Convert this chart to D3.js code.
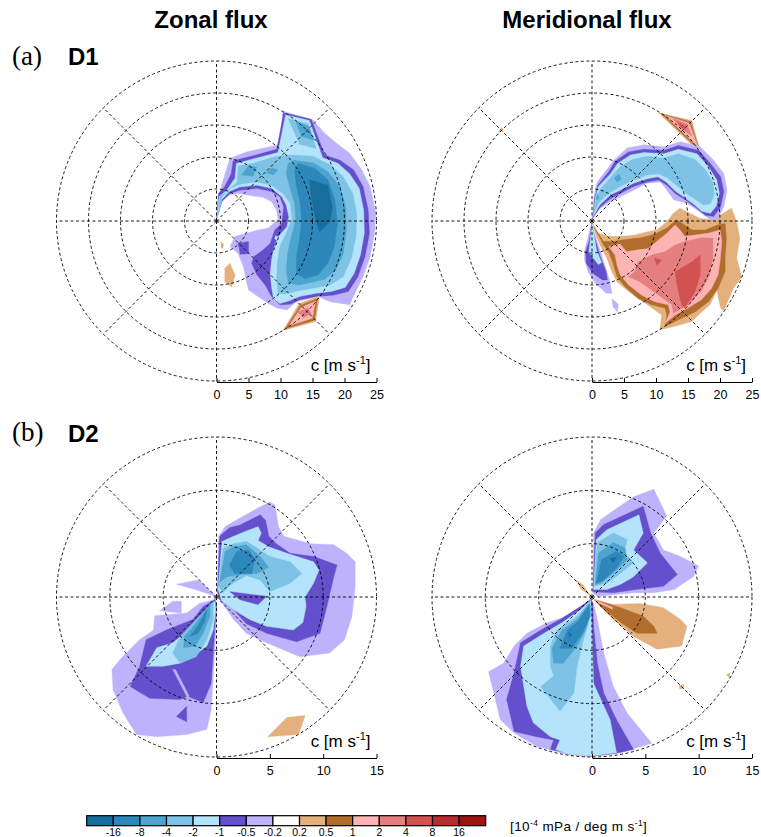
<!DOCTYPE html>
<html>
<head>
<meta charset="utf-8">
<script src="https://cdn.jsdelivr.net/npm/d3@7"></script>
<style>
  body { margin: 0; background: #fff; }
  svg { display: block; }
</style>
</head>
<body>
<svg id="fig" width="761" height="837"></svg>
<script>
// Contour levels of the flux spectrum [10^-4 mPa / deg m s^-1] and their fill colours
const contourLevels = [-16, -8, -4, -2, -1, -0.5, -0.2, 0.2, 0.5, 1, 2, 4, 8, 16];
const fillColors = ["#176d9c", "#2d87bb", "#4ca4cf", "#7ec3e6", "#b4e4fb", "#6450cd", "#bdb2fb",
                    "#ffffff", "#e4b07e", "#b06d2b", "#fcb3b3", "#e57f7f", "#d25151", "#b72c2c", "#9a1414"];
const colorbarLabels = ["-16", "-8", "-4", "-2", "-1", "-0.5", "-0.2", "0.2", "0.5", "1", "2", "4", "8", "16"];

const columnTitles = ["Zonal flux", "Meridional flux"];
const rowTags = ["(a)", "(b)"];
const rowNames = ["D1", "D2"];

// Phase-speed rings [m s^-1] and axis ticks per domain
const ringsD1 = [5, 10, 15, 20, 25];
const ringsD2 = [5, 10, 15];
const speedTicksD1 = [0, 5, 10, 15, 20, 25];
const speedTicksD2 = [0, 5, 10, 15];
const gridDirections = [0, 45, 90, 135, 180, 225, 270, 315];

// Filled contour regions: [contour level, vertices as (c_x, c_y) phase-speed components in m s^-1]
// Regions are painted in the listed order.
const d1ZonalRegions = [
  [-0.2, [[0,0.4],[0.3,3.3],[0.8,5.6],[2.1,9.8],[4.7,10.8],[7.8,11.5],[10.0,12.0],[10.3,17.2],[15.1,15.8],[16.9,13.7],[18.8,12.1],[20.8,10.6],[22.7,8.0],[24.0,5.4],[24.9,1.2],[24.7,-1.9],[24.0,-5.6],[22.9,-8.7],[21.4,-11.8],[20.8,-13.1],[17.7,-12.6],[15.9,-11.8],[12.5,-12.6],[11.0,-13.9],[9.4,-13.6],[8.1,-12.9],[6.5,-11.8],[5.0,-10.8],[4.7,-9.5],[4.2,-7.1],[3.4,-5.1],[2.1,-4.0],[2.9,-2.4],[4.7,-1.9],[6.5,-1.4],[8.1,-1.1],[8.9,-0.4],[9.6,0.2],[9.4,1.7],[8.6,3.0],[7.3,3.7],[5.7,3.9],[3.6,4.3],[2.1,4.1],[1.0,3.3],[0.5,2.0]]],
  [-0.5, [[0,0.2],[0.3,4.3],[1.3,5.4],[2.3,7.4],[2.6,9.4],[5.7,10.2],[9.4,11.2],[10.5,16.9],[14.8,15.9],[16.9,10.3],[19.3,9.5],[21.4,8.0],[22.9,5.4],[23.7,1.7],[23.9,-1.9],[23.2,-5.6],[22.1,-8.7],[20.6,-11.0],[18.2,-11.6],[15.6,-11.8],[13.0,-12.3],[11.5,-13.0],[9.9,-13.1],[8.6,-11.8],[7.6,-10.0],[6.3,-8.4],[5.5,-6.6],[5.8,-5.6],[7.3,-4.5],[8.4,-3.5],[9.1,-1.4],[10.2,-0.4],[10.5,2.2],[9.9,3.8],[8.6,4.6],[6.3,5.1],[3.6,4.8],[2.1,4.3],[0.8,3.0],[0.3,1.2]]],
  [-0.5, [[3.4,-3.5],[5.0,-3.2],[5.0,-5.1],[3.7,-5.2]]],
  [-1, [[0.05,0.4],[0.4,3.8],[1.6,4.8],[2.9,6.7],[3.1,9.0],[5.7,9.7],[9.6,10.7],[10.8,16.6],[14.5,15.7],[16.6,9.9],[19.0,9.0],[20.8,7.4],[22.3,5.1],[23.0,1.7],[23.1,-1.9],[22.5,-5.3],[21.5,-8.2],[20.1,-10.4],[18.0,-11.0],[15.6,-11.3],[13.0,-11.8],[11.3,-12.5],[9.9,-12.9],[8.9,-12.1],[8.6,-10.3],[8.4,-8.2],[8.6,-6.1],[8.9,-4.5],[9.7,-2.4],[11.0,-0.9],[11.3,0.6],[10.9,2.5],[10.2,3.8],[8.6,5.1],[6.3,5.6],[3.6,5.3],[2.0,4.6],[0.8,3.3]]],
  [-1, [[9.2,-2.3],[9.7,-2.5],[9.5,-3.1],[9.1,-2.8]]],
  [-2, [[0.3,1.2],[0.5,3.8],[1.7,4.6],[3.2,6.1],[3.4,8.6],[5.7,9.0],[9.4,10.1],[12.0,10.3],[15.1,10.1],[17.7,8.8],[19.8,6.9],[21.3,4.3],[21.9,1.2],[21.8,-2.4],[21.1,-5.8],[19.8,-8.7],[17.7,-10.0],[15.1,-10.5],[12.8,-10.9],[10.7,-11.4],[9.6,-11.3],[9.4,-9.2],[9.5,-6.6],[9.9,-4.0],[10.9,-1.9],[11.8,0.4],[11.5,2.8],[10.4,4.3],[8.6,5.6],[6.3,6.1],[3.9,5.8],[2.1,5.1],[0.9,3.8]]],
  [-2, [[11.2,16.0],[14.3,15.2],[15.6,11.3],[13.0,12.0]]],
  [-4, [[12.0,9.5],[15.1,9.1],[17.4,7.7],[19.3,5.4],[20.2,2.2],[20.3,-1.4],[19.8,-5.1],[18.6,-7.7],[16.9,-9.1],[14.8,-9.6],[12.8,-10.0],[11.2,-9.7],[10.9,-7.7],[11.1,-5.1],[11.7,-2.4],[12.4,0.2],[12.2,2.8],[11.5,5.1],[10.9,7.4],[11.2,9.0]]],
  [-4, [[3.9,7.2],[5.0,8.6],[6.3,8.4],[5.7,7.0]]],
  [-4, [[7.8,7.5],[8.6,8.3],[9.6,8.0],[8.9,7.2]]],
  [-4, [[12.4,15.5],[14.4,14.8],[15.3,12.6],[13.3,13.2]]],
  [-8, [[12.8,9.0],[15.4,8.2],[17.4,6.4],[18.5,3.3],[18.9,-0.4],[18.4,-4.0],[17.4,-6.6],[15.9,-8.4],[13.8,-9.0],[12.5,-8.2],[12.5,-5.6],[13.0,-2.7],[13.3,0.2],[13.1,2.8],[12.5,5.4],[12.2,8.0]]],
  [-16, [[14.6,6.4],[17.4,5.6],[18.1,2.2],[17.7,-0.1],[16.1,-1.7],[15.4,0.7],[14.8,3.8]]],
  [0.2, [[0.7,-3.3],[1.1,-3.6],[1.0,-4.3],[0.7,-4.1]]],
  [0.2, [[1.3,-7.4],[2.1,-6.6],[2.9,-8.4],[2.4,-10.3],[1.3,-9.5]]],
  [0.2, [[10.4,-17.1],[12.9,-12.9],[16.1,-11.7],[15.5,-15.7]]],
  [0.5, [[10.8,-16.8],[13.1,-13.2],[15.8,-12.1],[15.3,-15.5]]],
  [1, [[11.3,-16.4],[13.2,-13.5],[15.5,-12.5],[15.0,-15.2]]],
  [2, [[12.7,-14.2],[14.3,-13.6],[14.8,-14.5],[13.6,-15.1]]]
];

const d1MeridionalRegions = [
  [0.2, [[0.1,-0.4],[1.0,-1.9],[2.6,-2.4],[4.6,-2.4],[6.7,-2.2],[8.5,-1.7],[10.1,-1.4],[11.7,-0.1],[12.7,1.2],[13.75,2.0],[15.3,1.2],[16.9,0.4],[19.0,0.2],[20.5,1.2],[21.8,2.0],[22.6,-0.1],[23.1,-2.7],[22.6,-5.8],[23.4,-8.7],[22.1,-10.5],[20.6,-14.0],[20.1,-13.6],[19.5,-10.8],[18.5,-13.0],[16.9,-14.4],[15.6,-15.7],[12.8,-16.5],[10.6,-17.0],[10.9,-14.7],[8.0,-12.6],[5.7,-11.0],[3.9,-9.5],[3.1,-7.9],[2.3,-5.8],[1.25,-3.75],[0.5,-1.9]]],
  [0.5, [[0.3,-0.9],[1.8,-3.2],[3.1,-3.2],[5.2,-2.9],[7.7,-2.6],[9.3,-2.2],[10.1,-1.9],[11.7,-1.1],[13.2,0.2],[14.0,-0.3],[15.6,-1.4],[17.7,-1.4],[19.7,-0.6],[20.8,-0.4],[21.0,-2.7],[20.8,-5.3],[20.8,-7.9],[19.7,-10.5],[18.2,-12.6],[16.1,-14.2],[14.0,-15.2],[11.4,-16.5],[11.7,-14.7],[11.4,-13.6],[9.3,-13.1],[7.2,-12.1],[5.2,-10.3],[3.9,-8.7],[3.3,-6.6],[2.6,-4.8],[1.8,-3.75]]],
  [1, [[2.6,-4.0],[4.4,-3.6],[5.4,-4.8],[7.2,-4.5],[8.8,-4.3],[10.1,-3.2],[11.7,-1.9],[13.0,-0.6],[13.75,-1.4],[14.5,-2.4],[16.1,-2.2],[18.2,-1.9],[20.0,-1.4],[20.3,-3.2],[20.0,-6.4],[19.7,-8.4],[18.7,-10.5],[17.1,-12.3],[15.0,-13.6],[13.0,-14.7],[11.4,-16.0],[12.2,-14.2],[11.9,-13.1],[9.8,-12.6],[7.8,-11.6],[5.7,-10.0],[4.4,-8.4],[3.9,-6.9],[3.6,-5.3]]],
  [2, [[6.7,-7.9],[7.2,-6.4],[9.3,-5.3],[11.4,-4.8],[13.0,-3.75],[14.5,-3.2],[17.1,-2.6],[18.9,-2.7],[18.9,-5.8],[18.4,-8.4],[17.1,-10.9],[15.0,-13.1],[12.7,-14.4],[12.5,-13.1],[11.4,-12.3],[9.3,-10.8],[7.5,-9.5],[5.7,-8.7]]],
  [4, [[13.0,-7.9],[15.6,-6.4],[16.9,-5.3],[16.9,-8.4],[16.1,-11.0],[14.5,-13.6],[14.0,-13.1],[13.5,-11.0],[13.2,-9.4]]],
  [4, [[9.8,-5.8],[10.9,-6.1],[10.1,-6.9]]],
  [0.2, [[10.4,16.9],[15.6,15.7],[17.0,10.5],[13.7,13.7]]],
  [0.5, [[10.9,16.7],[15.4,15.5],[16.8,11.0],[13.8,13.9]]],
  [1, [[11.4,16.5],[15.2,15.3],[16.6,11.5],[13.9,14.1]]],
  [2, [[12.6,16.0],[14.8,15.2],[15.6,13.3],[14.0,14.4]]],
  [4, [[13.4,15.4],[14.4,15.0],[14.6,14.3],[13.9,14.6]]],
  [0.2, [[-14.6,14.0],[-14.1,14.6],[-13.9,14.3],[-14.4,13.8]]],
  [-0.2, [[0.1,0.7],[0.3,3.8],[0.8,6.1],[2.3,8.0],[3.4,9.5],[5.5,11.4],[8.1,11.9],[11.2,11.6],[13.8,12.4],[16.9,11.6],[19.0,9.5],[20.6,7.4],[21.1,4.8],[20.6,2.2],[19.5,0.2],[18.5,0.2],[16.4,1.7],[14.8,2.8],[12.8,3.3],[11.7,4.8],[10.7,6.1],[8.6,5.9],[6.5,4.8],[4.4,3.8],[2.9,3.0],[1.3,2.0]]],
  [-0.5, [[0.1,0.4],[0.4,3.5],[0.9,5.6],[2.6,7.7],[3.6,9.3],[5.7,10.8],[8.1,11.2],[11.2,11.0],[13.5,11.8],[16.7,11.0],[18.5,9.0],[20.1,6.9],[20.6,4.6],[20.1,2.2],[19.0,0.7],[17.7,0.9],[16.1,2.2],[14.6,3.3],[13.0,4.3],[11.7,5.6],[10.4,6.4],[8.6,6.1],[6.5,5.4],[4.4,4.3],[2.9,3.5],[1.3,2.2]]],
  [-1, [[0.2,0.7],[0.5,3.5],[1.0,5.4],[2.9,7.4],[4.0,9.0],[6.0,10.3],[8.1,10.7],[11.2,10.5],[13.5,11.2],[16.4,10.5],[18.2,8.5],[19.5,6.4],[19.9,4.3],[19.4,2.3],[18.5,1.2],[17.2,1.5],[15.9,2.6],[14.4,3.7],[13.0,4.7],[11.6,6.1],[10.3,6.9],[8.6,6.6],[6.5,5.9],[4.4,4.8],[2.9,4.1],[1.2,2.5]]],
  [-2, [[0.3,1.2],[0.7,3.8],[1.4,5.1],[3.1,7.0],[4.4,8.5],[6.3,9.6],[8.6,10.1],[11.2,9.8],[13.5,10.5],[16.1,9.6],[17.7,8.0],[18.9,6.0],[19.1,4.1],[18.5,2.7],[17.4,2.5],[16.1,3.4],[14.6,4.4],[13.3,5.5],[11.8,6.7],[10.4,7.4],[8.6,7.2],[6.5,6.4],[4.4,5.4],[2.6,4.3],[1.0,2.8]]],
  [-4, [[3.5,6.7],[4.2,7.3],[4.6,6.6],[3.9,6.1]]],
  [-4, [[0.6,3.3],[0.9,4.2],[1.1,3.5]]],
  [-0.2, [[-0.1,-0.4],[-0.6,-2.5],[-1.1,-4.3],[-1.2,-6.0],[-0.6,-8.0],[0.6,-9.8],[2.2,-11.3],[3.1,-11.3],[2.8,-9.4],[2.3,-7.9],[1.5,-5.3],[0.6,-2.5]]],
  [-0.2, [[3.1,-12.1],[4.1,-13.0],[4.0,-14.2],[3.3,-13.4]]],
  [-0.5, [[-0.05,-0.5],[-0.4,-3.0],[-1.0,-4.8],[-0.9,-6.6],[0.2,-8.2],[1.6,-9.2],[2.4,-9.2],[2.2,-7.9],[1.3,-5.6],[0.4,-2.5]]],
  [-1, [[0,-0.6],[-0.3,-3.2],[-0.5,-4.8],[0.2,-5.8],[1.0,-6.8],[1.5,-6.5],[0.7,-4.5],[0.3,-2.0]]]
];

const d2ZonalRegions = [
  [-0.2, [[0.06,0.4],[0.2,5.7],[0.8,6.6],[2.2,7.4],[3.8,8.3],[5.0,8.9],[5.5,8.6],[5.8,6.6],[6.3,5.7],[8.8,5.0],[11.0,4.9],[12.2,4.1],[13.0,3.3],[13.0,1.0],[12.7,-1.8],[12.0,-4.0],[10.6,-5.25],[7.8,-5.6],[4.7,-4.3],[2.8,-3.4],[1.6,-2.1],[0.3,-0.25]]],
  [-0.2, [[-3.75,1.2],[-1.7,1.6],[-0.06,0.06],[-2.0,0.7]]],
  [-0.2, [[-5.3,-1.3],[-3.3,-1.5],[-3.3,-0.4],[-4.1,-0.4]]],
  [-0.2, [[-0.06,-0.2],[-1.6,-0.6],[-2.8,-1.5],[-5.8,-1.75],[-5.9,-3.1],[-7.2,-4.0],[-8.9,-5.7],[-9.8,-6.8],[-9.7,-8.7],[-8.75,-10.9],[-7.5,-12.9],[-5.6,-13.1],[-2.8,-12.9],[-0.9,-12.4],[-0.5,-10.6],[-0.3,-7.4],[-0.06,-3.4],[0.06,-0.9]]],
  [-0.5, [[0.1,0.5],[0.3,5.7],[1.2,6.5],[2.2,6.75],[4.1,7.7],[4.6,7.2],[4.9,5.7],[5.6,5.0],[6.9,4.1],[9.1,3.8],[11.3,3.0],[11.0,1.9],[10.6,0.2],[10.2,-1.5],[9.7,-3.4],[7.5,-4.2],[4.7,-3.4],[2.8,-2.5],[1.6,-1.2],[0.3,-0.25]]],
  [-0.5, [[-0.15,-0.25],[-1.25,-0.9],[-2.2,-2.1],[-4.7,-3.1],[-6.6,-4.0],[-7.2,-6.5],[-8.1,-8.4],[-6.25,-9.5],[-3.4,-9.6],[-2.7,-9.3],[-1.25,-9.9],[-0.5,-8.1],[-0.3,-5.25],[-0.15,-2.75],[0,-0.9]]],
  [-0.5, [[-3.75,-11.2],[-2.8,-10.25],[-2.8,-11.7]]],
  [-0.2, [[-4.1,-6.8],[-3.85,-6.8],[-2.55,-9.3],[-2.75,-9.4]]],
  [-1, [[0.15,0.7],[0.5,5.2],[1.6,5.7],[3.1,6.3],[3.9,6.6],[4.2,6.0],[3.9,5.3],[4.9,4.7],[6.6,4.1],[9.1,3.3],[9.6,2.5],[9.1,1.3],[8.3,0.0],[8.4,-0.9],[8.1,-2.4],[7.2,-3.1],[4.7,-2.75],[3.1,-2.1],[1.6,-1.2],[0.5,-0.4]]],
  [-0.5, [[1.25,0.5],[4.7,0.06],[3.9,-0.7],[2.2,-0.25]]],
  [-1, [[-0.15,-0.4],[-1.1,-1.5],[-2.2,-2.75],[-4.1,-4.3],[-5.6,-4.75],[-6.6,-6.5],[-5.0,-6.5],[-3.4,-6.2],[-2.2,-5.6],[-0.9,-4.6],[-0.3,-3.1],[-0.06,-1.2]]],
  [-2, [[0.2,1.0],[0.6,4.6],[1.6,5.0],[2.8,5.2],[3.8,4.6],[5.0,3.8],[6.9,3.3],[8.0,2.2],[6.9,1.3],[5.0,0.5],[4.1,1.6],[2.8,2.0],[1.4,1.2],[0.6,0.4]]],
  [-2, [[-0.3,-0.4],[-1.9,-2.1],[-3.4,-3.7],[-4.1,-5.25],[-3.4,-6.2],[-1.9,-5.6],[-0.9,-4.0],[-0.3,-2.1]]],
  [-4, [[0.3,1.4],[0.8,4.25],[1.6,4.7],[2.8,4.9],[4.1,3.8],[4.9,2.8],[3.8,2.2],[2.2,2.1],[1.0,1.9]]],
  [-4, [[-0.6,-0.7],[-1.9,-2.4],[-3.0,-3.7],[-3.1,-4.75],[-2.0,-4.6],[-1.25,-3.4],[-0.6,-1.8]]],
  [-8, [[1.2,3.0],[1.9,4.25],[3.0,4.4],[3.6,3.5],[3.3,2.2],[1.7,2.2]]],
  [-8, [[-0.9,-1.2],[-1.7,-2.6],[-2.5,-3.7],[-1.7,-3.4],[-1.1,-2.3]]],
  [0.2, [[4.8,-13.1],[6.6,-11.3],[8.3,-11.1],[7.7,-12.9]]]
];

const d2MeridionalRegions = [
  [-0.2, [[0.06,0.4],[0.15,6.0],[0.8,7.25],[3.9,9.4],[5.8,10.1],[7.0,7.6],[5.8,6.0],[6.7,4.4],[8.3,3.8],[10.0,2.9],[9.5,1.9],[7.7,0.7],[5.8,0.4],[3.9,0.4],[2.0,0.2],[0.5,0.06]]],
  [-0.5, [[0.1,0.5],[0.3,6.0],[1.1,6.8],[4.8,8.5],[5.5,6.0],[6.4,4.1],[8.0,2.1],[6.7,1.0],[4.5,0.75],[2.0,0.4]]],
  [-1, [[0.15,0.7],[0.4,5.4],[1.4,6.3],[4.4,7.7],[4.8,6.0],[3.9,4.4],[5.2,3.2],[3.9,1.9],[2.7,1.2],[1.4,0.7]]],
  [-2, [[0.2,1.0],[0.5,5.1],[2.0,6.0],[3.3,5.4],[3.0,4.1],[3.9,3.2],[2.7,2.25],[1.4,1.3]]],
  [-4, [[0.3,1.2],[0.6,4.1],[2.0,5.1],[3.1,4.6],[3.3,3.5],[2.0,2.25],[0.8,1.3]]],
  [-8, [[0.4,1.3],[0.9,3.5],[2.3,4.3],[3.0,3.8],[2.3,2.7],[1.1,1.6]]],
  [-16, [[1.7,3.6],[2.3,3.75],[2.0,3.2]]],
  [-0.2, [[-0.1,-0.25],[-1.1,-1.0],[-2.3,-1.8],[-4.2,-2.4],[-6.1,-3.4],[-7.3,-4.6],[-8.3,-6.2],[-9.7,-7.0],[-9.2,-9.0],[-8.6,-11.5],[-7.3,-12.75],[-5.2,-14.0],[-2.3,-14.8],[0,-15.0],[2.7,-14.6],[5.6,-13.7],[3.3,-10.9],[2.0,-8.4],[1.1,-5.25],[0.5,-2.1],[0.15,-0.6]]],
  [-0.5, [[-0.06,-0.2],[-1.1,-0.9],[-3.0,-2.1],[-4.8,-3.1],[-6.7,-4.3],[-7.3,-7.1],[-8.0,-9.6],[-7.3,-12.6],[-5.2,-13.1],[-3.6,-13.4],[-3.9,-14.3],[-2.3,-14.6],[0,-14.9],[2.0,-14.7],[3.9,-14.3],[2.3,-11.5],[1.1,-9.0],[0.5,-6.2],[0.15,-2.75],[0.06,-0.6]]],
  [-1, [[-0.1,-0.3],[-1.1,-1.2],[-2.8,-2.4],[-4.5,-3.4],[-6.4,-4.6],[-6.7,-6.5],[-6.1,-10.25],[-5.5,-11.8],[-3.9,-13.1],[-3.0,-13.4],[-3.4,-14.3],[-2.3,-14.7],[0,-14.9],[2.3,-14.6],[1.7,-11.5],[0.15,-8.1],[0,-3.4]]],
  [-2, [[-0.15,-0.4],[-1.4,-1.8],[-3.3,-3.1],[-3.9,-4.6],[-3.9,-6.5],[-3.6,-7.4],[-4.8,-8.4],[-3.0,-10.7],[-1.7,-9.0],[-1.4,-6.5],[-0.8,-4.0],[-0.15,-1.8]]],
  [-4, [[-0.2,-0.6],[-1.4,-2.1],[-2.8,-3.1],[-3.75,-4.8],[-3.6,-6.2],[-2.7,-6.2],[-1.4,-4.6],[-0.6,-3.1],[-0.1,-1.5]]],
  [-8, [[-0.3,-0.7],[-1.25,-2.25],[-2.3,-3.1],[-3.0,-4.8],[-1.9,-4.8],[-0.9,-3.4],[-0.2,-1.8]]],
  [-16, [[-2.2,-3.3],[-1.9,-3.5],[-2.1,-3.8]]],
  [0.2, [[0.15,-0.25],[2.0,-0.7],[4.5,-0.6],[6.7,-1.0],[8.3,-2.1],[8.9,-2.75],[8.4,-4.6],[6.1,-4.9],[3.9,-3.7],[2.0,-2.1],[0.5,-0.6]]],
  [0.5, [[0.3,-0.25],[2.7,-1.0],[4.8,-1.8],[5.8,-2.75],[6.1,-3.4],[4.2,-3.4],[2.7,-2.4],[0.8,-0.9]]],
  [1, [[0.3,-0.25],[2.0,-1.0],[1.9,-1.15],[0.3,-0.4]]],
  [0.2, [[-1.5,1.6],[-0.9,1.2],[-0.1,0.1],[-1.0,0.7]]],
  [0.2, [[8.2,-8.3],[8.6,-8.2],[8.6,-8.6],[8.2,-8.6]]],
  [0.2, [[12.6,-7.3],[12.9,-7.1],[12.9,-7.6]]]
];

// ---- drawing ----
const svg = d3.select("#fig");
const SANS = "'Liberation Sans', Arial, Helvetica, sans-serif";
const SERIF = "'Liberation Serif', 'Times New Roman', serif";
const R = 160;

const color = d3.scaleThreshold().domain(contourLevels).range(fillColors);
// a region bounded by a negative level holds values below it, a positive one values above it
const fillFor = lv => color(lv < 0 ? lv - 1e-6 : lv + 1e-6);

const panels = [
  { id: "p1", regions: d1ZonalRegions,      cx: 216.5, cy: 221, max: 25, rings: ringsD1, ticks: speedTicksD1 },
  { id: "p2", regions: d1MeridionalRegions, cx: 592,   cy: 221, max: 25, rings: ringsD1, ticks: speedTicksD1 },
  { id: "p3", regions: d2ZonalRegions,      cx: 216.5, cy: 597, max: 15, rings: ringsD2, ticks: speedTicksD2 },
  { id: "p4", regions: d2MeridionalRegions, cx: 592,   cy: 597, max: 15, rings: ringsD2, ticks: speedTicksD2 }
];

const defs = svg.append("defs");

panels.forEach(p => {
  const r = d3.scaleLinear().domain([0, p.max]).range([0, R]);
  const x = d3.scaleLinear().domain([-p.max, p.max]).range([p.cx - R, p.cx + R]);
  const y = d3.scaleLinear().domain([-p.max, p.max]).range([p.cy + R, p.cy - R]);

  defs.append("clipPath").attr("id", "clip-" + p.id)
    .append("circle").attr("cx", p.cx).attr("cy", p.cy).attr("r", r(p.max));

  const g = svg.append("g");

  const line = d3.line().x(d => x(d[0])).y(d => y(d[1])).curve(d3.curveLinearClosed);
  g.append("g").attr("clip-path", `url(#clip-${p.id})`)
    .selectAll("path").data(p.regions).join("path")
    .attr("d", d => line(d[1]))
    .attr("fill", d => fillFor(d[0]))
    .attr("stroke", d => fillFor(d[0]))
    .attr("stroke-width", 0.4)
    .attr("stroke-linejoin", "round");

  // dashed polar grid
  const grid = g.append("g").attr("fill", "none").attr("stroke", "#000")
    .attr("stroke-width", 0.9).attr("stroke-dasharray", "3,2.5");
  grid.selectAll("circle").data(p.rings).join("circle")
    .attr("cx", p.cx).attr("cy", p.cy).attr("r", d => r(d));
  grid.selectAll("line").data(gridDirections).join("line")
    .attr("x1", p.cx).attr("y1", p.cy)
    .attr("x2", d => p.cx + r(p.max) * Math.cos(d * Math.PI / 180))
    .attr("y2", d => p.cy - r(p.max) * Math.sin(d * Math.PI / 180));

  // phase-speed axis along the bottom of the disc
  const axis = g.append("g")
    .attr("transform", `translate(${p.cx},${p.cy + R + 1})`)
    .call(d3.axisBottom(r).tickValues(p.ticks).tickSizeInner(-4).tickSizeOuter(0).tickPadding(8)
      .tickFormat(d3.format("d")));
  axis.select(".domain").attr("stroke", "#000").attr("stroke-width", 1.2);
  axis.selectAll(".tick line").attr("stroke", "#000").attr("stroke-width", 1);
  axis.selectAll("text").attr("font-family", SANS).attr("font-size", 12.5).attr("fill", "#000");

  const lab = g.append("text")
    .attr("x", p.cx + R - 6).attr("y", p.cy + R - 10)
    .attr("text-anchor", "end").attr("font-family", SANS).attr("font-size", 17).attr("fill", "#000");
  lab.append("tspan").text("c [m s");
  lab.append("tspan").attr("dy", -7).attr("font-size", 11).text("-1");
  lab.append("tspan").attr("dy", 7).text("]");
});

// column titles and row labels
svg.selectAll("text.coltitle").data(columnTitles).join("text").attr("class", "coltitle")
  .attr("x", (d, i) => [211, 587][i]).attr("y", 28)
  .attr("text-anchor", "middle").attr("font-family", SANS).attr("font-weight", "bold")
  .attr("font-size", 24).text(d => d);

svg.selectAll("text.rowtag").data(rowTags).join("text").attr("class", "rowtag")
  .attr("x", 12).attr("y", (d, i) => [64.5, 441][i])
  .attr("font-family", SERIF).attr("font-size", 27).text(d => d);

svg.selectAll("text.rowname").data(rowNames).join("text").attr("class", "rowname")
  .attr("x", 68).attr("y", (d, i) => [65, 441.5][i])
  .attr("font-family", SANS).attr("font-weight", "bold").attr("font-size", 24).text(d => d);

// colour bar
const cb = { x0: 86.7, x1: 485.7, y: 815.7, h: 10 };
const cbX = d3.scaleLinear().domain([0, fillColors.length]).range([cb.x0, cb.x1]);
const cbg = svg.append("g");
cbg.selectAll("rect").data(fillColors).join("rect")
  .attr("x", (d, i) => cbX(i)).attr("y", cb.y)
  .attr("width", cbX(1) - cbX(0)).attr("height", cb.h)
  .attr("fill", d => d).attr("stroke", "#000").attr("stroke-width", 1.2);
cbg.selectAll("text").data(colorbarLabels).join("text")
  .attr("x", (d, i) => cbX(i + 1)).attr("y", 836.3)
  .attr("text-anchor", "middle").attr("font-family", SANS).attr("font-size", 10.5).text(d => d);

const units = svg.append("text").attr("x", 510).attr("y", 831)
  .attr("font-family", SANS).attr("font-size", 13.5).attr("letter-spacing", 0.4).attr("fill", "#000");
units.append("tspan").text("[10");
units.append("tspan").attr("dy", -5.5).attr("font-size", 8.5).text("-4");
units.append("tspan").attr("dy", 5.5).text(" mPa / deg m s");
units.append("tspan").attr("dy", -5.5).attr("font-size", 8.5).text("-1");
units.append("tspan").attr("dy", 5.5).text("]");
</script>
</body>
</html>
